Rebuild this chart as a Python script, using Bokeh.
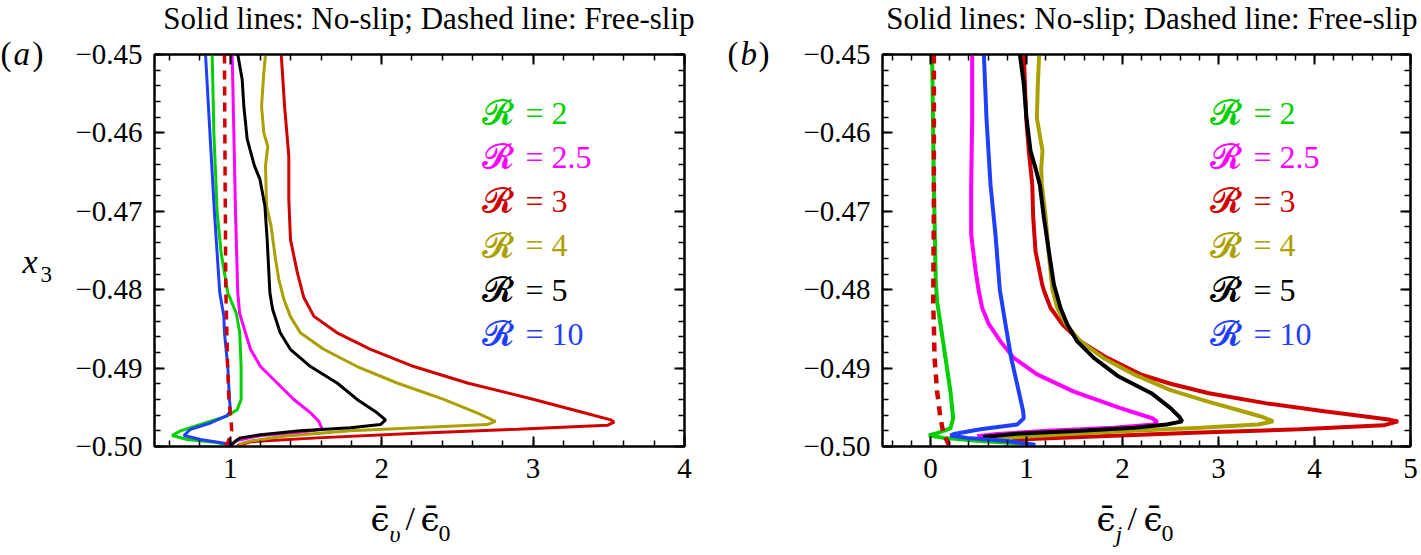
from bokeh.plotting import figure
from bokeh.models import FixedTicker, LinearAxis, Label, Range1d, CustomJSTickFormatter
from bokeh.layouts import row, column
from bokeh.embed import file_html
from bokeh.resources import INLINE

# ---------------- data ----------------
# panel (a): viscous dissipation  eps_v / eps_0  versus x3
a_green_v = [0.881, 0.892, 0.914, 0.940, 0.984, 1.040, 1.063, 1.072, 1.072, 1.046, 0.980, 0.804, 0.672, 0.617, 0.716, 0.914, 1.002]
a_green_x3 = [-0.4500, -0.4600, -0.4702, -0.4753, -0.4804, -0.4830, -0.4855, -0.4898, -0.4940, -0.4953, -0.4961, -0.4972, -0.4980, -0.4986, -0.4991, -0.4995, -0.4999]
a_magenta_v = [1.013, 1.024, 1.035, 1.050, 1.062, 1.101, 1.134, 1.200, 1.310, 1.420, 1.530, 1.585, 1.607, 1.450, 1.200, 1.050, 1.000]
a_magenta_x3 = [-0.4500, -0.4600, -0.4702, -0.4804, -0.4830, -0.4855, -0.4876, -0.4898, -0.4919, -0.4940, -0.4957, -0.4968, -0.4978, -0.4982, -0.4986, -0.4992, -0.4998]
a_red_v = [1.337, 1.359, 1.387, 1.387, 1.398, 1.443, 1.486, 1.553, 1.706, 1.927, 2.213, 2.566, 3.006, 3.337, 3.513, 3.535, 3.490, 2.896, 2.235, 1.575, 1.134, 1.046]
a_red_x3 = [-0.4500, -0.4566, -0.4630, -0.4685, -0.4736, -0.4778, -0.4810, -0.4834, -0.4855, -0.4876, -0.4898, -0.4919, -0.4940, -0.4957, -0.4966, -0.4969, -0.4973, -0.4978, -0.4983, -0.4989, -0.4994, -0.4999]
a_olive_v = [1.233, 1.222, 1.207, 1.222, 1.248, 1.233, 1.240, 1.270, 1.299, 1.321, 1.354, 1.397, 1.463, 1.617, 1.838, 2.102, 2.410, 2.630, 2.751, 2.696, 2.232, 1.794, 1.354, 1.134, 1.057]
a_olive_x3 = [-0.4500, -0.4523, -0.4566, -0.4600, -0.4617, -0.4642, -0.4693, -0.4719, -0.4761, -0.4787, -0.4812, -0.4834, -0.4855, -0.4876, -0.4898, -0.4919, -0.4940, -0.4957, -0.4968, -0.4972, -0.4976, -0.4980, -0.4987, -0.4993, -0.4997]
a_black_v = [1.050, 1.079, 1.090, 1.112, 1.160, 1.196, 1.229, 1.244, 1.262, 1.280, 1.330, 1.397, 1.530, 1.706, 1.838, 1.970, 2.026, 1.992, 1.794, 1.463, 1.200, 1.068, 1.035, 1.002]
a_black_x3 = [-0.4500, -0.4532, -0.4566, -0.4608, -0.4642, -0.4659, -0.4693, -0.4736, -0.4804, -0.4825, -0.4855, -0.4876, -0.4898, -0.4919, -0.4940, -0.4957, -0.4966, -0.4972, -0.4976, -0.4980, -0.4985, -0.4989, -0.4993, -0.4999]
a_blue_v = [0.837, 0.866, 0.896, 0.931, 0.958, 0.962, 0.984, 0.995, 1.002, 0.976, 0.870, 0.738, 0.694, 0.804, 1.002]
a_blue_x3 = [-0.4500, -0.4600, -0.4702, -0.4804, -0.4834, -0.4855, -0.4898, -0.4940, -0.4955, -0.4961, -0.4970, -0.4978, -0.4986, -0.4991, -0.4997]
a_free_v = [0.962, 0.966, 0.971, 0.983, 0.991, 1.007, 1.010, 0.985, 0.960]
a_free_x3 = [-0.4500, -0.4650, -0.4800, -0.4898, -0.4940, -0.4970, -0.4980, -0.4995, -0.5000]

# panel (b): Joule dissipation  eps_j / eps_0  versus x3
b_green_v = [0.017, 0.035, 0.055, 0.069, 0.104, 0.156, 0.208, 0.236, 0.208, 0.069, -0.017, 0.139, 0.521, 1.076]
b_green_x3 = [-0.4500, -0.4666, -0.4790, -0.4815, -0.4844, -0.4887, -0.4930, -0.4964, -0.4977, -0.4983, -0.4986, -0.4989, -0.4993, -0.4997]
b_magenta_v = [0.434, 0.434, 0.424, 0.424, 0.469, 0.503, 0.538, 0.608, 0.729, 0.868, 1.111, 1.493, 1.979, 2.309, 2.361, 2.326, 1.910, 1.215, 0.694, 0.486]
b_magenta_x3 = [-0.4500, -0.4581, -0.4666, -0.4730, -0.4775, -0.4802, -0.4823, -0.4844, -0.4866, -0.4887, -0.4908, -0.4930, -0.4951, -0.4964, -0.4968, -0.4972, -0.4976, -0.4980, -0.4984, -0.4987]
b_red_v = [0.972, 0.997, 1.024, 1.060, 1.070, 1.094, 1.163, 1.184, 1.250, 1.372, 1.563, 1.840, 2.188, 2.500, 2.900, 3.500, 4.100, 4.550, 4.790, 4.870, 4.720, 3.850, 2.810, 1.770, 1.100, 0.850]
b_red_x3 = [-0.4500, -0.4581, -0.4623, -0.4666, -0.4708, -0.4751, -0.4793, -0.4802, -0.4823, -0.4844, -0.4866, -0.4887, -0.4908, -0.4920, -0.4932, -0.4945, -0.4955, -0.4962, -0.4966, -0.4968, -0.4973, -0.4978, -0.4982, -0.4987, -0.4990, -0.4992]
b_olive_v = [1.132, 1.118, 1.108, 1.167, 1.153, 1.160, 1.200, 1.229, 1.270, 1.320, 1.410, 1.563, 1.800, 2.120, 2.500, 2.900, 3.250, 3.450, 3.570, 3.410, 2.810, 2.115, 1.300, 0.650]
b_olive_x3 = [-0.4500, -0.4538, -0.4581, -0.4623, -0.4645, -0.4666, -0.4708, -0.4751, -0.4800, -0.4823, -0.4844, -0.4866, -0.4887, -0.4908, -0.4928, -0.4943, -0.4955, -0.4962, -0.4968, -0.4972, -0.4976, -0.4980, -0.4985, -0.4990]
b_black_v = [0.931, 0.972, 1.000, 1.042, 1.094, 1.139, 1.181, 1.233, 1.285, 1.354, 1.424, 1.528, 1.701, 1.950, 2.300, 2.500, 2.590, 2.622, 2.460, 2.120, 1.562, 0.868, 0.545]
b_black_x3 = [-0.4500, -0.4538, -0.4581, -0.4623, -0.4645, -0.4666, -0.4708, -0.4751, -0.4793, -0.4823, -0.4844, -0.4866, -0.4887, -0.4910, -0.4932, -0.4951, -0.4962, -0.4968, -0.4972, -0.4976, -0.4980, -0.4984, -0.4988]
b_blue_v = [0.556, 0.583, 0.625, 0.677, 0.722, 0.781, 0.840, 0.920, 0.965, 0.972, 0.903, 0.521, 0.243, 0.208, 0.382, 0.799, 1.094]
b_blue_x3 = [-0.4500, -0.4581, -0.4666, -0.4730, -0.4800, -0.4844, -0.4887, -0.4930, -0.4955, -0.4964, -0.4972, -0.4978, -0.4984, -0.4986, -0.4989, -0.4993, -0.4998]
b_free_v = [0.035, 0.035, 0.028, 0.035, 0.042, 0.069, 0.104, 0.132, 0.156, 0.191]
b_free_x3 = [-0.4500, -0.4700, -0.4820, -0.4844, -0.4887, -0.4930, -0.4964, -0.4981, -0.4989, -0.4998]

legend_values = ["2", "2.5", "3", "4", "5", "10"]
series_colors = ["#00d000", "#ff00ff", "#d00000", "#aaa000", "#000000", "#1f3fff"]

x3_major = [-0.50, -0.49, -0.48, -0.47, -0.46, -0.45]
x3_minor = [round(-0.5 + 0.002 * i, 3) for i in range(26)]
a_x_major = [1, 2, 3, 4]
a_x_minor = [round(0.6 + 0.2 * i, 1) for i in range(18)]
b_x_major = [0, 1, 2, 3, 4, 5]
b_x_minor = [round(-0.4 + 0.2 * i, 1) for i in range(27)]

title_text = "Solid lines: No-slip; Dashed line: Free-slip"

SERIF = "Liberation Serif"
TOTAL_W = 1420
TOTAL_H = 554
TOP_H = 37                 # strip with the two titles
MID_H = TOTAL_H - TOP_H    # strips / panels below it
FH = 392                   # frame height
BT = 54 - TOP_H            # border above frame (frame top at page y 54)
BB = 49                    # border below frame
XL_H = MID_H - BT - FH - BB


def style_axis(ax, xt, xm, labels=True):
    ax.ticker = FixedTicker(ticks=xt, minor_ticks=xm)
    ax.axis_line_width = 2
    ax.axis_line_color = "black"
    ax.major_tick_in = 10
    ax.major_tick_out = 0
    ax.minor_tick_in = 6
    ax.minor_tick_out = 0
    ax.major_tick_line_width = 2
    ax.minor_tick_line_width = 1.5
    ax.major_tick_line_color = "black"
    ax.minor_tick_line_color = "black"
    ax.major_label_text_font = SERIF
    if labels:
        ax.major_label_text_font_size = "29px"
        ax.major_label_text_color = "black"
        ax.major_label_standoff = 12
    else:
        ax.major_label_text_font_size = "1px"
        ax.major_label_text_color = None
        ax.major_label_standoff = 0


def lab(p, x, y, text, size, color="black", style="normal", align="left", font=SERIF):
    # y is the wanted baseline (screen px up from the frame bottom); Bokeh draws the
    # "alphabetic" baseline about 0.4 em lower, so compensate.
    px = float(size.replace("px", ""))
    p.add_layout(Label(x=x, y=y + 0.4 * px, x_units="screen", y_units="screen", text=text,
                       text_font=font, text_font_size=size, text_color=color,
                       text_font_style=style, text_align=align, text_baseline="alphabetic"))


def strip(w, h):
    s = figure(width=w, height=h, x_range=Range1d(0, 1), y_range=Range1d(0, 1),
               output_backend="svg", toolbar_location=None, min_border=0,
               x_axis_location=None, y_axis_location=None)
    s.outline_line_color = None
    s.grid.visible = False
    s.background_fill_color = "white"
    s.border_fill_color = "white"
    return s


def panel(xr, xt, xm, curves, free, fw, bl, br, lw):
    p = figure(frame_width=fw, frame_height=FH, x_range=Range1d(*xr), y_range=Range1d(-0.5, -0.45),
               output_backend="svg", toolbar_location=None,
               min_border_left=bl, min_border_right=br, min_border_top=BT, min_border_bottom=BB)
    p.xgrid.visible = False
    p.ygrid.visible = False
    p.outline_line_color = "black"
    p.outline_line_width = 2
    p.background_fill_color = "white"
    p.border_fill_color = "white"

    style_axis(p.xaxis[0], xt, xm)
    style_axis(p.yaxis[0], x3_major, x3_minor)
    p.yaxis[0].formatter = CustomJSTickFormatter(code="return '\u2212' + Math.abs(tick).toFixed(2);")
    top = LinearAxis()
    style_axis(top, xt, xm, labels=False)
    p.add_layout(top, "above")
    right = LinearAxis()
    style_axis(right, x3_major, x3_minor, labels=False)
    p.add_layout(right, "right")

    for (v, y), c in zip(curves, series_colors):
        p.line(x=v, y=y, line_color=c, line_width=lw)
    p.line(x=free[0], y=free[1], line_color="#d00000", line_width=lw + 0.5, line_dash="9 7")

    # legend (inside the frame); baselines at page y 125, 169, ...
    for i, (val, c) in enumerate(zip(legend_values, series_colors)):
        yb = (TOP_H + BT + FH) - 125 - i * 44.2
        lab(p, 327, yb, "\U0001D4E1", "34px", color=c, font="DejaVu Serif")
        lab(p, 371, yb, "= " + val, "32px", color=c)
    return p


def page_y(y):
    """page y (from top) -> baseline in a strip whose bottom is the page bottom"""
    return TOTAL_H - y


# ---------- titles ----------
top_strip = strip(TOTAL_W, TOP_H)
lab(top_strip, 694, TOP_H - 30, title_text, "31px", align="right")
lab(top_strip, 1417, TOP_H - 30, title_text, "31px", align="right")

# ---------- panel (a) ----------
pa = panel((0.5, 4.0), a_x_major, a_x_minor,
           [(a_green_v, a_green_x3), (a_magenta_v, a_magenta_x3), (a_red_v, a_red_x3),
            (a_olive_v, a_olive_x3), (a_black_v, a_black_x3), (a_blue_v, a_blue_x3)],
           (a_free_v, a_free_x3), 530, 89, 36, 3)
# x-label strip (its frame lines up with the panel frame, page x 154)
xa = strip(655, XL_H)
lab(xa, 216, page_y(532), "\u03f5\u0304", "34px", font="DejaVu Serif")
lab(xa, 235, page_y(543), "\u03c5", "24px", style="italic")
lab(xa, 251, page_y(532), "/", "34px")
lab(xa, 266, page_y(532), "\u03f5\u0304", "34px", font="DejaVu Serif")
lab(xa, 284, page_y(543), "0", "24px")
sa = strip(65, MID_H)
lab(sa, 0, page_y(67), "(", "33px")
lab(sa, 13, page_y(67), "a", "33px", style="italic")
lab(sa, 32, page_y(67), ")", "33px")
lab(sa, 22, page_y(275), "x", "34px", style="italic")
lab(sa, 40, page_y(283), "3", "23px")

# ---------- panel (b) ----------
pb = panel((-0.5, 5.0), b_x_major, b_x_minor,
           [(b_green_v, b_green_x3), (b_magenta_v, b_magenta_x3), (b_red_v, b_red_x3),
            (b_olive_v, b_olive_x3), (b_black_v, b_black_x3), (b_blue_v, b_blue_x3)],
           (b_free_v, b_free_x3), 528, 92, 10, 4)
xb = strip(630, XL_H)
lab(xb, 214, page_y(532), "\u03f5\u0304", "34px", font="DejaVu Serif")
lab(xb, 233, page_y(543), "j", "24px", style="italic")
lab(xb, 245, page_y(532), "/", "34px")
lab(xb, 261, page_y(532), "\u03f5\u0304", "34px", font="DejaVu Serif")
lab(xb, 279, page_y(543), "0", "24px")
sb = strip(70, MID_H)
lab(sb, 7, page_y(67), "(", "33px")
lab(sb, 20, page_y(67), "b", "33px", style="italic")
lab(sb, 38, page_y(67), ")", "33px")

layout = column(top_strip, row(sa, column(pa, xa), sb, column(pb, xb)))
open("out.html", "w").write(file_html(layout, INLINE))
